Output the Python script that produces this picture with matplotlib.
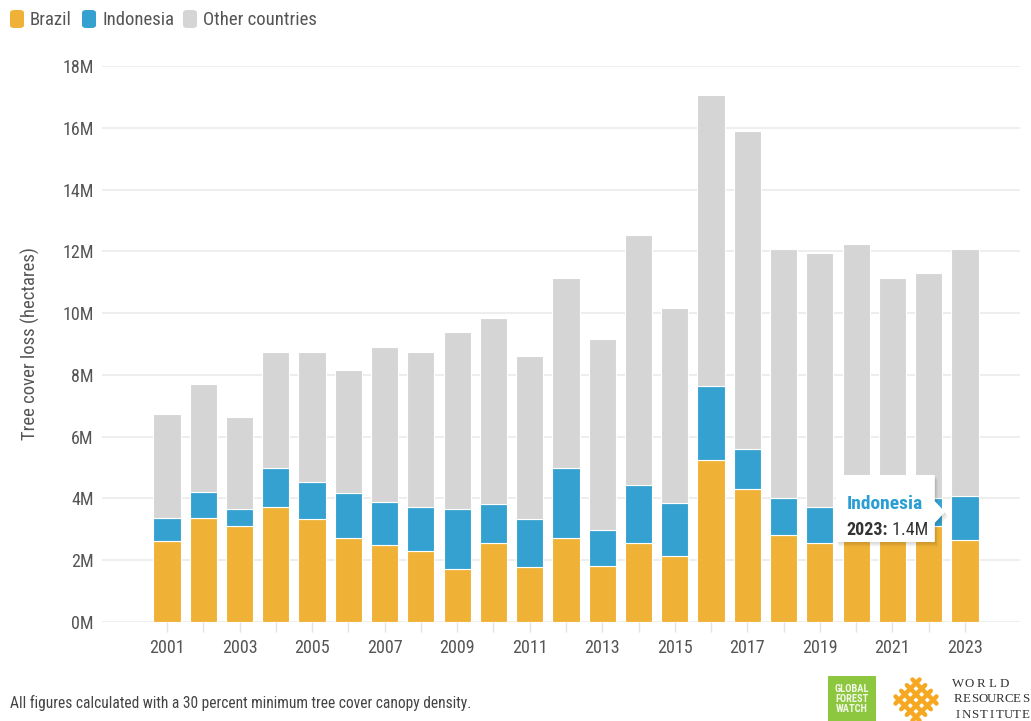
import matplotlib; matplotlib.use('Agg')
import matplotlib.pyplot as plt
import numpy as np
from matplotlib.patches import FancyBboxPatch, Polygon, Rectangle

plt.rcParams.update({'font.family': ['Roboto Condensed', 'Roboto', 'DejaVu Sans'], 'font.size': 11})

years = list(range(2001, 2024))
brazil = [2.62, 3.37, 3.11, 3.72, 3.33, 2.72, 2.49, 2.30, 1.72, 2.56, 1.78, 2.72,
          1.82, 2.56, 2.13, 5.25, 4.32, 2.81, 2.56, 2.70, 2.80, 3.10, 2.67]
indonesia = [0.75, 0.84, 0.55, 1.26, 1.20, 1.45, 1.39, 1.42, 1.94, 1.26, 1.55, 2.26,
             1.16, 1.87, 1.73, 2.40, 1.27, 1.20, 1.17, 0.80, 0.75, 0.90, 1.40]
other = [3.36, 3.49, 2.97, 3.76, 4.21, 3.99, 5.02, 5.02, 5.73, 6.02, 5.28, 6.15,
         6.19, 8.09, 6.31, 9.42, 10.29, 8.06, 8.22, 8.74, 7.59, 7.30, 8.00]
yticks = [0, 2, 4, 6, 8, 10, 12, 14, 16, 18]
series_names = ['Brazil', 'Indonesia', 'Other countries']
colors = ['#F0B236', '#35A1D0', '#D5D5D5']
tip_year, tip_value = 2023, 1.4

W, H = 1031, 721
def fx(px): return px / W
def fy(py): return 1 - py / H

fig = plt.figure(figsize=(W / 100, H / 100), dpi=100)
ax = fig.add_axes([fx(102), fy(622), 918 / W, 556 / H])

x = np.array(years)
b = np.array(brazil); i = np.array(indonesia); o = np.array(other)
bw = 0.75
ax.bar(x, b, bw, color=colors[0], edgecolor='white', linewidth=0.8, zorder=3)
ax.bar(x, i, bw, bottom=b, color=colors[1], edgecolor='white', linewidth=0.8, zorder=3)
ax.bar(x, o, bw, bottom=b + i, color=colors[2], edgecolor='white', linewidth=0.8, zorder=3)

ax.set_xlim(2001 - 65 / 36.27, 2001 + 853 / 36.27)
ax.set_ylim(0, 18)
ax.set_yticks(yticks)
ax.set_yticklabels([f'{v}M' for v in yticks])
ax.set_xticks(years)
ax.set_xticklabels([str(y) if (y - 2001) % 2 == 0 else '' for y in years])
ax.grid(axis='y', color='#EBEBEB', linewidth=1.2, zorder=0)
for s in ax.spines.values():
    s.set_visible(False)
ax.tick_params(axis='y', length=0, pad=6, labelsize=13, labelcolor='#555555')
ax.tick_params(axis='x', length=7, width=1, color='#E3E3E3', pad=5, labelsize=13, labelcolor='#555555')
ax.set_ylabel('Tree cover loss (hectares)', fontsize=13.5, color='#555555')
ax.yaxis.set_label_coords(-62 / 918, 0.5)

# tooltip
x0, x1, xt = 2019.44, 2022.17, 2022.45
y0, y1, yt = 2.59, 4.76, 3.56
pts = [(x0, y0), (x0, y1), (x1, y1), (x1, yt + 0.35), (xt, yt), (x1, yt - 0.35), (x1, y0)]
for k, a in enumerate([0.05, 0.05, 0.04]):
    ax.add_patch(Polygon([(px + 0.03 * (k + 1), py - 0.05 * (k + 1)) for px, py in pts], closed=True,
                         facecolor='#000000', alpha=a, edgecolor='none', zorder=5))
ax.add_patch(Polygon(pts, closed=True, facecolor='white', edgecolor='none', zorder=6))
ax.text(x0 + 0.3, 3.82, 'Indonesia', color='#2A9ED4', fontsize=14, fontweight='bold',
        va='center', ha='left', zorder=7)
t = ax.text(x0 + 0.3, 2.98, f'{tip_year}:', color='#333333', fontsize=13, fontweight='bold',
            va='center', ha='left', zorder=7)
ax.annotate(f' {tip_value}M', xycoords=t, xy=(1, 0.5), va='center', ha='left',
            fontsize=13, color='#333333', zorder=7)

# legend
lx = [10, 82, 183]
for k, (name, c) in enumerate(zip(series_names, colors)):
    fig.patches.append(FancyBboxPatch((fx(lx[k]), fy(28)), 14 / W, 18 / H,
                                      boxstyle='round,pad=0,rounding_size=0.004',
                                      transform=fig.transFigure, facecolor=c, edgecolor='none'))
    fig.text(fx(lx[k] + 20), fy(20), name, fontsize=13.5, color='#555555', va='center')

fig.text(fx(10), fy(703), 'All figures calculated with a 30 percent minimum tree cover canopy density.',
         fontsize=11.2, color='#444444', va='center')

# logos
fig.patches.append(Rectangle((fx(828), 0), 48 / W, 45 / H, transform=fig.transFigure,
                             facecolor='#8DC63F', edgecolor='none'))
fig.text(fx(852), fy(699), 'GLOBAL\nFOREST\nWATCH', fontsize=7.5, fontweight='bold', color='#F2F8E8',
         ha='center', va='center', linespacing=1.0)
cx, cy = 916, 700
r2 = np.sqrt(0.5)
for off in (-12, -4, 4, 12):
    for sgn in (1, -1):
        ux, uy = r2, sgn * r2
        vx, vy = r2, -sgn * r2
        p0 = (cx + off * vx - 17 * ux, cy + off * vy - 17 * uy)
        p1 = (cx + off * vx + 17 * ux, cy + off * vy + 17 * uy)
        fig.add_artist(plt.Line2D([fx(p0[0]), fx(p1[0])], [fy(p0[1]), fy(p1[1])],
                                  color='#F6A821', linewidth=3.2, solid_capstyle='round',
                                  transform=fig.transFigure))
for row, (word, step) in enumerate([('WORLD', 11.5), ('RESOURCES', 8.4), ('INSTITUTE', 8.4)]):
    for j, ch in enumerate(word):
        fig.text(fx(958 + j * step), fy(684 + row * 15.5), ch, fontsize=9.3, color='#333333',
                 ha='center', va='center', family=['Liberation Serif', 'DejaVu Serif'])

fig.savefig('out.png', dpi=100)
